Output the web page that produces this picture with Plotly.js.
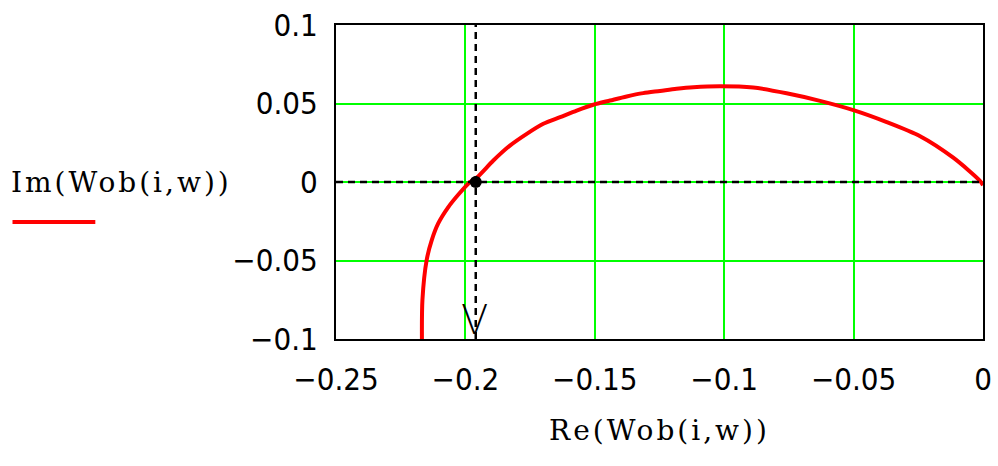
<!DOCTYPE html>
<html>
<head>
<meta charset="utf-8">
<script src="https://cdn.plot.ly/plotly-3.0.1.min.js"></script>
<style>
  html, body { margin: 0; padding: 0; background: #ffffff; }
  #chart { width: 998px; height: 466px; }
  svg text.xtitle, svg text.annotation-text { letter-spacing: 3px; }
</style>
</head>
<body>
<div id="chart"></div>
<script>
// Nyquist curve: Re(Wob(i,w)) vs Im(Wob(i,w))
const reW = [-0.2168, -0.2166, -0.2150, -0.2130, -0.2105, -0.2066, -0.2027, -0.1982, -0.1955,
  -0.1892, -0.1828, -0.1763, -0.1699, -0.1634, -0.1570, -0.1506, -0.1441, -0.1377, -0.1313,
  -0.1248, -0.1184, -0.1119, -0.1016, -0.0888, -0.0759, -0.0630, -0.0501, -0.0372, -0.0243,
  -0.0115, -0.0012, 0.0];
const imW = [-0.1, -0.075, -0.05, -0.037, -0.0264, -0.016, -0.008, 0.0, 0.003,
  0.0137, 0.0232, 0.0307, 0.0371, 0.0413, 0.0455, 0.0492, 0.0519, 0.0545, 0.0566,
  0.0580, 0.0594, 0.0604, 0.0610, 0.0602, 0.0565, 0.0517, 0.0458, 0.0382, 0.0292,
  0.0155, 0.0008, -0.002];

// marker (crosshair) position
const markerX = [-0.196];
const markerY = [0.0];

// axes
const xTicks = [-0.25, -0.2, -0.15, -0.1, -0.05, 0];
const xTickLabels = ['\u22120.25', '\u22120.2', '\u22120.15', '\u22120.1', '\u22120.05', '0'];
const yTicks = [-0.1, -0.05, 0, 0.05, 0.1];
const yTickLabels = ['\u22120.1', '\u22120.05', '0', '0.05', '0.1'];

const xTitle = 'Re(Wob(i,w))';
const yTitle = 'Im(Wob(i,w))';
const markerLabel = 'V';

const tickFont = {family: '"Liberation Sans Narrow", "DejaVu Sans Condensed", "Arial Narrow", sans-serif', size: 31, color: '#000000'};
const titleFont = {family: '"DejaVu Serif", "Liberation Serif", serif', size: 28, color: '#000000'};

const traces = [
  {
    x: reW, y: imW, type: 'scatter', mode: 'lines',
    line: {color: '#ff0000', width: 4, shape: 'spline', smoothing: 0.8},
    name: yTitle, showlegend: false, hoverinfo: 'x+y'
  },
  {
    x: [xTicks[0], xTicks[xTicks.length - 1]], y: [markerY[0], markerY[0]],
    type: 'scatter', mode: 'lines',
    line: {color: '#000000', width: 2.5, dash: '7px,5px'},
    showlegend: false, hoverinfo: 'skip'
  },
  {
    x: [markerX[0], markerX[0]], y: [yTicks[0], yTicks[yTicks.length - 1]],
    type: 'scatter', mode: 'lines',
    line: {color: '#000000', width: 2.5, dash: '7px,5px'},
    showlegend: false, hoverinfo: 'skip'
  },
  {
    x: markerX, y: markerY, type: 'scatter', mode: 'markers',
    marker: {color: '#000000', size: 12, symbol: 'circle'},
    showlegend: false
  }
];

const layout = {
  width: 998, height: 466,
  margin: {l: 336, r: 15, t: 25, b: 127},
  paper_bgcolor: '#ffffff', plot_bgcolor: '#ffffff',
  showlegend: false,
  xaxis: {
    range: [xTicks[0], xTicks[xTicks.length - 1]],
    tickvals: xTicks, ticktext: xTickLabels,
    tickfont: tickFont, ticks: '', ticklabelstandoff: 12,
    showgrid: true, gridcolor: '#00ff00', gridwidth: 2,
    zeroline: false,
    showline: true, linecolor: '#000000', linewidth: 2, mirror: true,
    title: {text: xTitle, font: titleFont, standoff: 24},
    fixedrange: true
  },
  yaxis: {
    range: [yTicks[0], yTicks[yTicks.length - 1]],
    tickvals: yTicks, ticktext: yTickLabels,
    tickfont: tickFont, ticks: '', ticklabelstandoff: 10,
    showgrid: true, gridcolor: '#00ff00', gridwidth: 2,
    zeroline: false,
    showline: true, linecolor: '#000000', linewidth: 2, mirror: true,
    fixedrange: true
  },
  annotations: [
    {
      text: yTitle, xref: 'paper', yref: 'y', x: -0.505, y: 0,
      xanchor: 'left', yanchor: 'middle', showarrow: false,
      font: titleFont
    },
    {
      text: markerLabel, xref: 'x', yref: 'y', x: markerX[0], y: yTicks[0],
      xanchor: 'center', yanchor: 'bottom', showarrow: false,
      font: {family: '"DejaVu Sans", sans-serif', size: 40, color: '#000000', weight: 200},
      yshift: -6
    }
  ],
  shapes: [
    {
      type: 'line', xref: 'paper', yref: 'paper',
      x0: -0.5, x1: -0.372, y0: 0.373, y1: 0.373,
      line: {color: '#ff0000', width: 4}
    }
  ]
};

Plotly.newPlot('chart', traces, layout, {displayModeBar: false, staticPlot: true});
</script>
</body>
</html>
